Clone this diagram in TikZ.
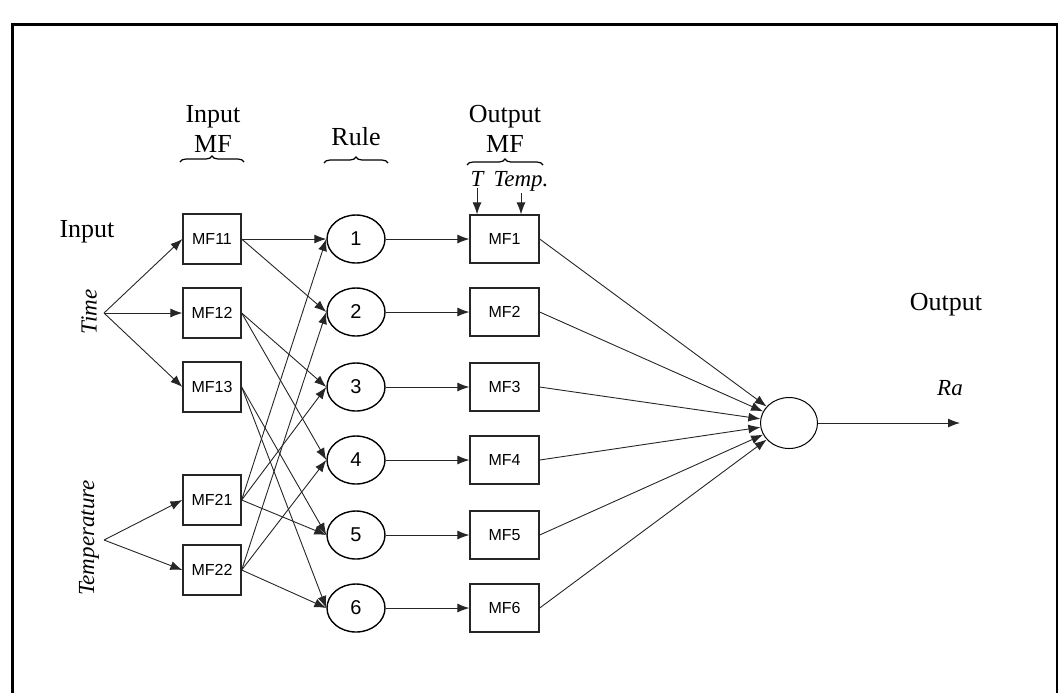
\documentclass[tikz,border=0pt]{standalone}
\usepackage{fontspec}
\setmainfont{Liberation Serif}
\setsansfont{Liberation Sans}
\usetikzlibrary{arrows.meta,shapes.geometric,decorations.pathreplacing}
\begin{document}
\begin{tikzpicture}[x=0.5pt,y=-0.5pt,
  inmf/.style={draw=black!85,line width=.65pt,minimum width=29pt,minimum height=25pt,inner sep=0pt,font=\sffamily\fontsize{8}{9}\selectfont},
  outmf/.style={inmf,minimum width=34.5pt,minimum height=24pt},
  rulenode/.style={draw,ellipse,line width=.7pt,minimum width=29pt,minimum height=24pt,inner sep=0pt,font=\sffamily\fontsize{10}{11}\selectfont},
  link/.style={line width=.45pt,draw=black!85,-{Latex[length=6pt,width=4.5pt]}},
  head/.style={align=center,inner sep=0pt,font=\fontsize{13}{15}\selectfont},
  var/.style={inner sep=1pt,font=\itshape\fontsize{11.5}{13}\selectfont},
  cbrace/.style={decorate,decoration={brace,amplitude=3pt},line width=.6pt}]
\useasboundingbox (0,0) rectangle (1058,692);
\draw[line width=1.5pt] (12,700) -- (12,24) -- (1057,24) -- (1057,700);
% headings
\node[head,anchor=base] (hin) at (87,237) {Input};
\node[head,anchor=south] (hinmf) at (213,153) {Input\\MF};
\node[head,anchor=base] (hrule) at (356,145) {Rule};
\node[head,anchor=south] (houtmf) at (505,153) {Output\\MF};
\node[head,anchor=base] (hout) at (946,310) {Output};
\draw[cbrace] (180,162) -- (244,162);
\draw[cbrace] (324,163) -- (388,163);
\draw[cbrace] (467,165) -- (543,165);
% input membership functions
\foreach \n/\y in {11/239,12/313,13/387,21/500,22/570}
  \node[inmf] (m\n) at (212,\y) {MF\n};
% rules and output membership functions
\foreach \i/\y in {1/239,2/312,3/387,4/460,5/535,6/608}{
  \node[rulenode] (r\i) at (356,\y) {\i};
  \node[outmf] (o\i) at (504.5,\y) {MF\i};
  \draw[link] (r\i) -- (o\i);
}
\node[draw,ellipse,line width=.5pt,minimum width=28.5pt,minimum height=25.5pt] (sum) at (789,423) {};
\coordinate (ra) at (960,423);
\node[var] (ralabel) at (950,388) {Ra};
\draw[link] (sum) -- (ra);
\foreach \i in {1,...,6}
  \draw[link] (o\i.east) -- (sum);
% inputs
\coordinate (time) at (104,313);
\coordinate (temp) at (104,540);
\node[var,rotate=90] (timelabel) at (89,312) {Time};
\node[var,rotate=90] (templabel) at (89,538) {Temperature};
\foreach \n in {11,12,13}
  \draw[link] (time) -- (m\n.west);
\foreach \n in {21,22}
  \draw[link] (temp) -- (m\n.west);
\foreach \a/\b in {11/1,11/2,12/3,12/4,13/5,13/6,21/1,21/3,21/5,22/2,22/4,22/6}
  \draw[link] (m\a.east) -- (r\b.west);
% output MF parameters
\node[var,anchor=base] (tl) at (477,186) {T};
\node[var,anchor=base] (tpl) at (521,186) {Temp.};
\draw[link] (tl.south) -- (tl.south |- o1.north);
\draw[link] (tpl.south) -- (tpl.south |- o1.north);
\end{tikzpicture}
\end{document}
